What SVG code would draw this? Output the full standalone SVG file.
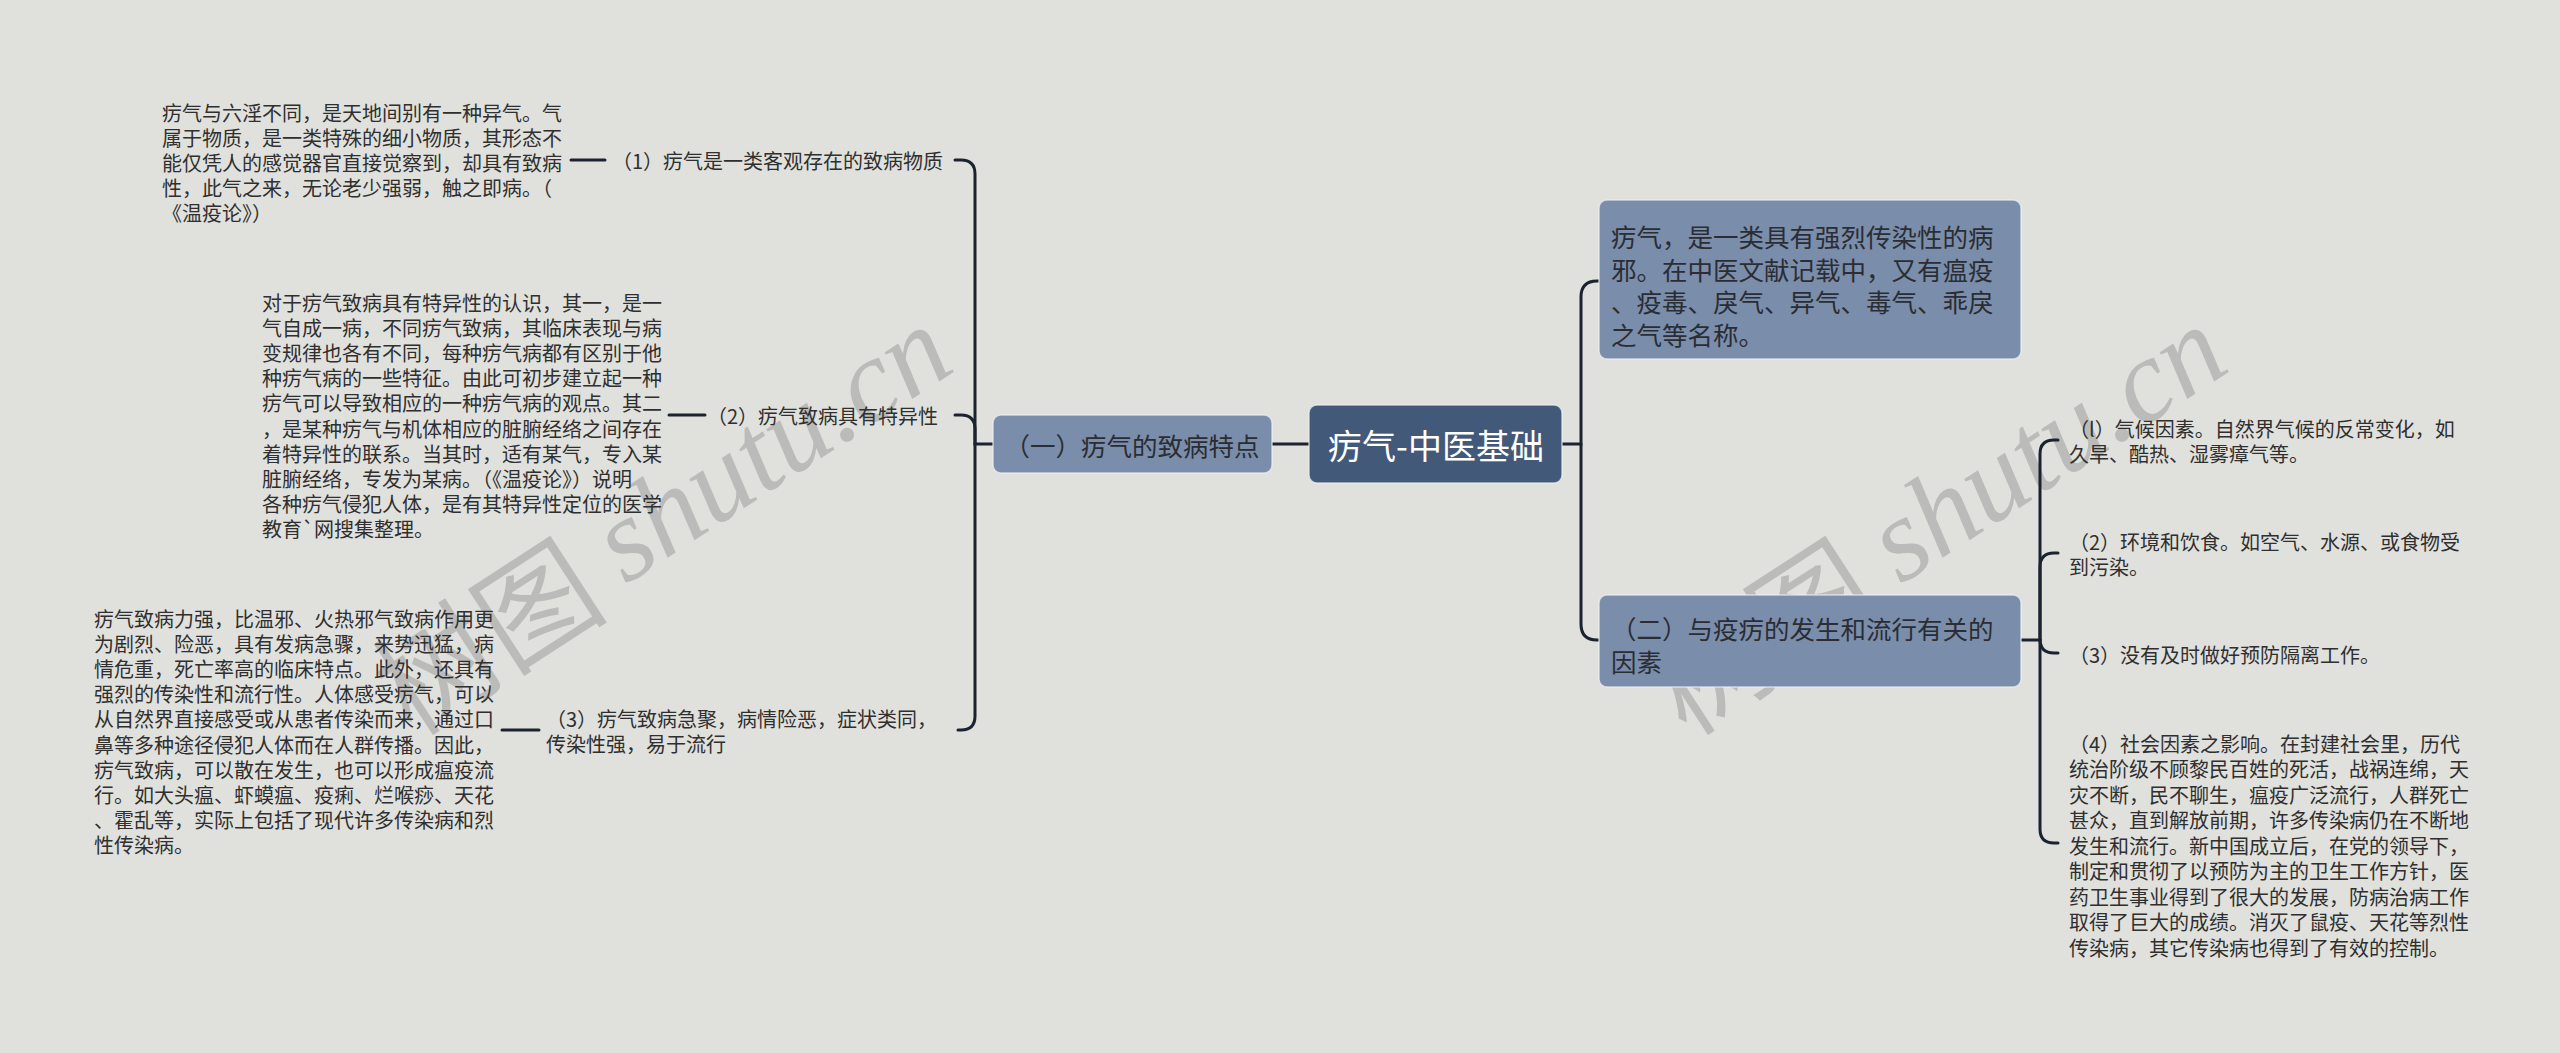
<svg xmlns="http://www.w3.org/2000/svg" width="2560" height="1053" viewBox="0 0 2560 1053">
<style>
.bg{fill:#e0e1dd}
.conn{fill:none;stroke:#1b2230;stroke-width:3;stroke-linecap:round}
.root{fill:#435979;stroke:#eef1f4;stroke-opacity:.7;stroke-width:1.5}
.lvl1{fill:#7a8dab;stroke:#eef1f4;stroke-opacity:.7;stroke-width:1.5}
text{font-family:"Noto Sans CJK SC","Noto Sans",sans-serif;dominant-baseline:central}
.rt{font-size:34px;fill:#ffffff}
.t1{font-size:25.5px;fill:#2a2d33}
.lf{font-size:20px;fill:#2f2f2f}
.wm{font-size:118px;fill:#9c9c9a;fill-opacity:.55}
.wm .en{font-family:"Liberation Serif",serif;font-style:italic}
</style>
<rect class="bg" x="0" y="0" width="2560" height="1053"/>

<g id="watermarks">
<text class="wm" x="660" y="515" text-anchor="middle" transform="rotate(-33 660 515)">树图 <tspan class="en">shutu.cn</tspan></text>
<text class="wm" x="1935" y="515" text-anchor="middle" transform="rotate(-33 1935 515)">树图 <tspan class="en">shutu.cn</tspan></text>
</g>

<g id="connectors">
<path class="conn" d="M1309,444 H1272"/>
<path class="conn" d="M993,444 H975 V174 Q975,160 961,160 H955"/>
<path class="conn" d="M975,444 V429 Q975,415 961,415 H955"/>
<path class="conn" d="M975,444 V716 Q975,730 961,730 H958"/>
<path class="conn" d="M571,160 H605"/>
<path class="conn" d="M669,415 H705"/>
<path class="conn" d="M502,730 H539"/>
<path class="conn" d="M1562,444 H1581 V297 Q1581,281 1597,281 H1600"/>
<path class="conn" d="M1581,444 V624 Q1581,640 1597,640 H1600"/>
<path class="conn" d="M2021,640 H2040 V454 Q2040,440 2054,440 H2058"/>
<path class="conn" d="M2040,640 V567 Q2040,553 2054,553 H2058"/>
<path class="conn" d="M2040,640 V639 Q2040,653 2054,653 H2058"/>
<path class="conn" d="M2040,640 V829 Q2040,843 2054,843 H2058"/>
</g>

<g id="root">
<rect class="root" x="1309" y="405" width="253" height="78" rx="8"/>
<text class="rt" x="1436" y="444" text-anchor="middle">疠气-中医基础</text>
</g>

<g id="branch-left">
<rect class="lvl1" x="993" y="415" width="279" height="58" rx="8"/>
<text class="t1" x="1132" y="444" text-anchor="middle">（一）疠气的致病特点</text>
</g>

<g id="node-definition">
<rect class="lvl1" x="1599" y="200" width="422" height="159" rx="8"/>
<text class="t1">
<tspan x="1611" y="235">疠气，是一类具有强烈传染性的病</tspan>
<tspan x="1611" y="268">邪。在中医文献记载中，又有瘟疫</tspan>
<tspan x="1611" y="300">、疫毒、戾气、异气、毒气、乖戾</tspan>
<tspan x="1611" y="333">之气等名称。</tspan>
</text>
</g>

<g id="node-factors">
<rect class="lvl1" x="1599" y="595" width="422" height="92" rx="8"/>
<text class="t1">
<tspan x="1611" y="627">（二）与疫疠的发生和流行有关的</tspan>
<tspan x="1611" y="660">因素</tspan>
</text>
</g>

<g id="label-1">
<text class="lf" x="612" y="160">（1）疠气是一类客观存在的致病物质</text>
</g>
<g id="leaf-1">
<text class="lf">
<tspan x="162" y="112">疠气与六淫不同，是天地间别有一种异气。气</tspan>
<tspan x="162" y="137">属于物质，是一类特殊的细小物质，其形态不</tspan>
<tspan x="162" y="162">能仅凭人的感觉器官直接觉察到，却具有致病</tspan>
<tspan x="162" y="187">性，此气之来，无论老少强弱，触之即病。（</tspan>
<tspan x="162" y="212">《温疫论》）</tspan>
</text>
</g>

<g id="label-2">
<text class="lf" x="707" y="415">（2）疠气致病具有特异性</text>
</g>
<g id="leaf-2">
<text class="lf">
<tspan x="262" y="302">对于疠气致病具有特异性的认识，其一，是一</tspan>
<tspan x="262" y="327">气自成一病，不同疠气致病，其临床表现与病</tspan>
<tspan x="262" y="352">变规律也各有不同，每种疠气病都有区别于他</tspan>
<tspan x="262" y="377">种疠气病的一些特征。由此可初步建立起一种</tspan>
<tspan x="262" y="402">疠气可以导致相应的一种疠气病的观点。其二</tspan>
<tspan x="262" y="428">，是某种疠气与机体相应的脏腑经络之间存在</tspan>
<tspan x="262" y="453">着特异性的联系。当其时，适有某气，专入某</tspan>
<tspan x="262" y="478">脏腑经络，专发为某病。（《温疫论》）说明</tspan>
<tspan x="262" y="503">各种疠气侵犯人体，是有其特异性定位的医学</tspan>
<tspan x="262" y="528">教育`网搜集整理。</tspan>
</text>
</g>

<g id="label-3">
<text class="lf">
<tspan x="546" y="718">（3）疠气致病急聚，病情险恶，症状类同，</tspan>
<tspan x="546" y="743">传染性强，易于流行</tspan>
</text>
</g>
<g id="leaf-3">
<text class="lf">
<tspan x="94" y="618">疠气致病力强，比温邪、火热邪气致病作用更</tspan>
<tspan x="94" y="643">为剧烈、险恶，具有发病急骤，来势迅猛，病</tspan>
<tspan x="94" y="668">情危重，死亡率高的临床特点。此外，还具有</tspan>
<tspan x="94" y="693">强烈的传染性和流行性。人体感受疠气，可以</tspan>
<tspan x="94" y="718">从自然界直接感受或从患者传染而来，通过口</tspan>
<tspan x="94" y="744">鼻等多种途径侵犯人体而在人群传播。因此，</tspan>
<tspan x="94" y="769">疠气致病，可以散在发生，也可以形成瘟疫流</tspan>
<tspan x="94" y="794">行。如大头瘟、虾蟆瘟、疫痢、烂喉痧、天花</tspan>
<tspan x="94" y="819">、霍乱等，实际上包括了现代许多传染病和烈</tspan>
<tspan x="94" y="844">性传染病。</tspan>
</text>
</g>

<g id="factor-1">
<text class="lf">
<tspan x="2069" y="428">（l）气候因素。自然界气候的反常变化，如</tspan>
<tspan x="2069" y="453">久旱、酷热、湿雾瘴气等。</tspan>
</text>
</g>
<g id="factor-2">
<text class="lf">
<tspan x="2069" y="541">（2）环境和饮食。如空气、水源、或食物受</tspan>
<tspan x="2069" y="566">到污染。</tspan>
</text>
</g>
<g id="factor-3">
<text class="lf" x="2069" y="654">（3）没有及时做好预防隔离工作。</text>
</g>
<g id="factor-4">
<text class="lf">
<tspan x="2069" y="743">（4）社会因素之影响。在封建社会里，历代</tspan>
<tspan x="2069" y="768">统治阶级不顾黎民百姓的死活，战祸连绵，天</tspan>
<tspan x="2069" y="794">灾不断，民不聊生，瘟疫广泛流行，人群死亡</tspan>
<tspan x="2069" y="819">甚众，直到解放前期，许多传染病仍在不断地</tspan>
<tspan x="2069" y="845">发生和流行。新中国成立后，在党的领导下，</tspan>
<tspan x="2069" y="870">制定和贯彻了以预防为主的卫生工作方针，医</tspan>
<tspan x="2069" y="896">药卫生事业得到了很大的发展，防病治病工作</tspan>
<tspan x="2069" y="921">取得了巨大的成绩。消灭了鼠疫、天花等烈性</tspan>
<tspan x="2069" y="947">传染病，其它传染病也得到了有效的控制。</tspan>
</text>
</g>
</svg>
